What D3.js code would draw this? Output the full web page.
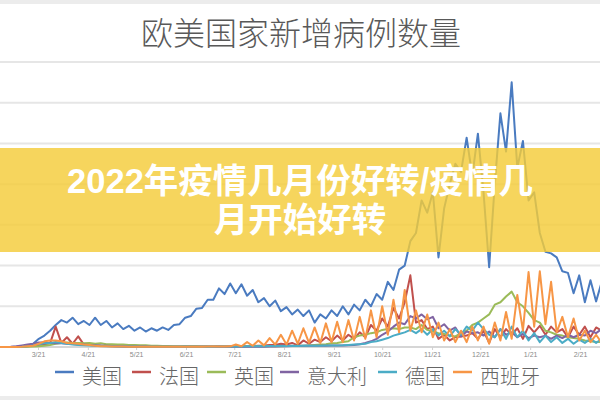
<!DOCTYPE html>
<html><head><meta charset="utf-8">
<script src="https://cdn.jsdelivr.net/npm/d3@7"></script>
<style>body{margin:0;background:#fff}svg{display:block}</style>
</head><body><svg id="c" width="600" height="400"></svg>
<script>
// ---- data (daily new cases, thousands; one sample every 3.5 days from 2020-02-26) ----
const seriesNames = ["美国", "法国", "英国", "意大利", "德国", "西班牙"];
const usa = [0,0,0.1,0.3,0.5,1.5,4,10,14,20,
  27,33,30,36,28,32,27,36,27,32,
  24,29,22,26,20,24,19,23,20,24,
  21,27,28,36,38,47,48,58,58,72,
  65,78,66,77,63,70,55,60,50,57,
  44,49,40,46,38,45,30,40,35,45,
  38,50,40,52,45,58,50,65,58,80,
  70,95,100,130,140,180,165,190,110,170,
  200,225,215,257,210,262,190,98,200,287,
  240,325,220,253,180,190,140,117,115,110,
  93,91,66,88,55,82,56,80];
const france = [0,0,0,0,0.5,1,1.5,2.5,3.5,4.5,
  25,5,12,4,13,3,2.5,2,1.5,1.2,
  1,0.8,0.6,0.5,0.5,0.4,0.4,0.3,0.4,0.3,
  0.4,0.3,0.4,0.5,0.5,0.6,0.6,0.7,0.6,0.8,
  0.7,0.9,0.8,1,1,1.2,1.5,1.8,2.5,2.5,
  4,3,5,2,8,4,9,6,12,7,
  14,8,15,10,18,12,27,20,35,25,
  48,35,55,88,30,33,22,25,10,15,
  8,12,13,14,17,10,20,5,22,12,
  22,15,23,10,26,18,26,15,25,18,
  22,12,25,15,25,12,24,20];
const uk = [0,0,0,0,0.1,0.3,0.5,1,1.5,2.5,
  4,5,5.5,5,5,4.5,5,4,4.5,3.5,
  3.5,3,3,2.5,2.5,2,2,1.5,1.5,1.2,
  1.2,1,1,0.9,0.8,0.8,0.7,0.7,0.6,0.7,
  0.6,0.7,0.7,0.8,0.8,0.9,0.9,1,1,1.1,
  1,1.2,1.2,1.4,1.5,2,2.5,3,3.5,4.5,
  5,6,7,12,14,15,17,18,21,22,
  23,22,24,24,22,27,21,19,17,16,
  14,13,17,20,27,30,35,40,52,55,
  62,68,55,50,42,33,30,20,18,15,
  14,12,11,10,8,7,6,6];
const italy = [0,0,0.3,1,2,3,4,5.5,5.5,5,
  4.5,4.5,4,3.8,3,3,2.5,2,1.8,1.5,
  1.2,1,0.9,0.7,0.6,0.5,0.5,0.4,0.4,0.3,
  0.3,0.3,0.3,0.25,0.2,0.2,0.2,0.2,0.2,0.2,
  0.2,0.25,0.3,0.3,0.3,0.35,0.4,0.45,0.5,0.6,
  0.8,1,1.2,1.3,1.4,1.5,1.5,1.6,1.6,1.7,
  1.7,1.8,2,2.5,3.5,5,7,10,15,19,
  25,30,28,38,35,40,34,37,23,28,
  20,24,13,19,17,18,14,19,12,22,
  15,18,12,16,11,14,12,14,10,14,
  11,15,12,15,14,20,17,22];
const germany = [0,0,0,0,0.2,0.8,2,3.5,4.5,5,
  6,5,4,3,2.5,2,1.8,1.5,1.2,1,
  0.8,0.6,0.6,0.5,0.5,0.4,0.4,0.4,0.3,0.3,
  0.3,0.4,0.4,0.5,0.4,0.4,0.4,0.5,0.4,0.5,
  0.5,0.6,0.6,0.7,0.8,0.8,1,1,1.2,1.2,
  1.4,1.3,1.4,1.3,1.5,1.4,1.6,1.5,1.8,1.7,
  1.8,2,2.5,3,3.5,4,6,7,9,11,
  14,16,18,21,17,22,15,22,14,20,
  13,22,15,25,20,30,22,15,12,22,
  10,25,12,20,8,17,6,14,6,12,
  5,10,4,9,5,10,5,10];
const spain = [0,0,0,0,0.3,1,1.5,4,7,8,
  8,7,5,4.5,4,3,2.5,1.5,1,0.8,
  0.6,0.5,0.5,0.4,0.4,0.3,0.3,0.3,0.3,0.3,
  0.3,0.3,0.3,0.4,0.3,0.4,0.4,0.5,0.5,0.6,
  0.5,0.8,3,1,6,1.5,8,2,11,3,
  15,3,20,4,23,5,24,5,29,6,
  31,6,33,8,37,10,45,12,50,15,
  58,18,70,20,45,18,40,12,30,8,
  22,6,20,6,25,8,25,4,30,8,
  43,10,64,20,92,25,93,28,80,18,
  37,12,35,8,20,6,15,5];
const tickDates = ["2020-03-21","2020-04-21","2020-05-21","2020-06-21","2020-07-21","2020-08-21",
  "2020-09-21","2020-10-21","2020-11-21","2020-12-21","2021-01-21","2021-02-21"];
const yTicks = [0, 50, 100, 150, 200, 250, 300, 350];

const title = "欧美国家新增病例数量";
const bannerLines = ["2022年疫情几月份好转/疫情几", "月开始好转"];
const colors = ["#4a7bc0", "#c0504d", "#9bbb59", "#8064a2", "#4bacc6", "#f79646"];

// ---- drawing ----
const svg = d3.select("#c");
const W = 600, H = 400;
const allSeries = [usa, france, uk, italy, germany, spain];
const start = new Date(2020, 1, 26);
const parse = d3.timeParse("%Y-%m-%d");

const x = d3.scaleTime()
  .domain([new Date(2020, 1, 26, 9), new Date(2021, 2, 5, 10)])
  .range([0, 600]);
const y = d3.scaleLinear().domain([0, 350]).range([347, 62]);

svg.append("rect").attr("width", W).attr("height", H).attr("fill", "#fff");
svg.append("rect").attr("x", 0).attr("y", 0).attr("width", W).attr("height", 4).attr("fill", "#ececec");
svg.append("rect").attr("x", 0).attr("y", 396).attr("width", W).attr("height", 4).attr("fill", "#ececec");

svg.append("text").attr("x", 301).attr("y", 31)
  .attr("text-anchor", "middle").attr("dominant-baseline", "central")
  .attr("font-family", "'Noto Sans CJK SC', sans-serif").attr("font-size", 32)
  .attr("font-weight", 300)
  .attr("fill", "#595959").text(title);

// grid
svg.append("g").selectAll("line").data(yTicks).join("line")
  .attr("x1", 0).attr("x2", W)
  .attr("y1", d => y(d)).attr("y2", d => y(d))
  .attr("stroke", d => d === 0 ? "#d6d6d6" : "#e6e6e6")
  .attr("stroke-width", 2);

// x axis
const xAxis = d3.axisBottom(x)
  .tickValues(tickDates.map(parse))
  .tickFormat(d3.timeFormat("%-m/%d"))
  .tickSize(3);
const gx = svg.append("g").attr("transform", "translate(0,347)").call(xAxis);
gx.select(".domain").remove();
gx.selectAll(".tick line").attr("stroke", "#d0d0d0");
gx.selectAll(".tick text").attr("fill", "#8a8a8a").attr("font-size", 7)
  .attr("font-family", "'Liberation Sans', sans-serif").attr("dy", "0.55em");

// lines
const line = d3.line()
  .x((d, i) => x(d3.timeHour.offset(start, 84 * i)))
  .y(d => y(d));
svg.append("g").selectAll("path").data(allSeries).join("path")
  .attr("d", d => line(d))
  .attr("fill", "none")
  .attr("stroke", (d, i) => colors[i])
  .attr("stroke-width", 2)
  .attr("stroke-linejoin", "round");

// banner
svg.append("rect").attr("x", 0).attr("y", 148).attr("width", W).attr("height", 104)
  .attr("fill", "rgb(244,204,57)").attr("opacity", 0.82);
svg.append("g").selectAll("text").data(bannerLines).join("text")
  .attr("x", 300).attr("y", (d, i) => 193 + i * 39)
  .attr("text-anchor", "middle")
  .attr("font-family", "'Liberation Sans', 'Noto Sans CJK SC', sans-serif").attr("font-weight", 700)
  .attr("font-size", 34.5).attr("fill", "#fff").text(d => d);

// legend
const legX = [55, 132, 207, 280, 378, 453];
const lg = svg.append("g").selectAll("g").data(seriesNames).join("g")
  .attr("transform", (d, i) => `translate(${legX[i]},372)`);
lg.append("line").attr("x1", 0).attr("x2", 19).attr("y1", 0).attr("y2", 0)
  .attr("stroke", (d, i) => colors[i]).attr("stroke-width", 2.5);
lg.append("text").attr("x", 27).attr("y", 3).attr("dominant-baseline", "central")
  .attr("font-family", "'Noto Sans CJK SC', sans-serif").attr("font-size", 20)
  .attr("font-weight", 300)
  .attr("fill", "#666").text(d => d);
</script></body></html>
